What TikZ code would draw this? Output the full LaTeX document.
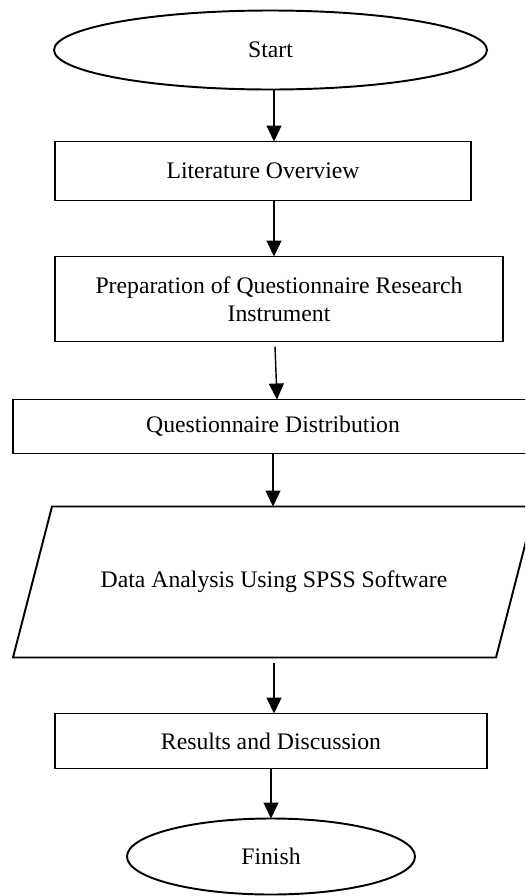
\documentclass[tikz,border=0pt]{standalone}
\usepackage{fontspec}
\setmainfont{Liberation Serif}
\usetikzlibrary{shapes.geometric,arrows.meta,positioning}

\begin{document}
\begin{tikzpicture}[
        node distance=1.1cm,
        every node/.style={font=\fontsize{13.5}{16}\selectfont, outer sep=0pt},
        terminal/.style={ellipse, draw, line width=1.1pt, inner sep=0pt},
        process/.style={rectangle, draw, line width=1.1pt, align=center, inner sep=0pt},
        io/.style={rectangle, align=center, inner sep=0pt},
        arrow/.style={-{Triangle[width=0.3cm,length=0.32cm]}, line width=0.8pt}
    ]
        \useasboundingbox (0,0) rectangle (10.5,-17.92);
        \clip (0,0) rectangle (10.5,-17.92);

        % Start
        \node[terminal, minimum width=8.66cm, minimum height=1.58cm] (start) at (5.41,-1.0) {Start};

        % Steps
        \node[process, minimum width=8.32cm, minimum height=1.18cm, below=1.04cm of start, xshift=-0.15cm] (review) {Literature Overview};
        \node[process, minimum width=8.96cm, minimum height=1.70cm, below=1.12cm of review, xshift=0.32cm] (prep) {Preparation of Questionnaire Research\\Instrument};
        \node[process, minimum width=10.4cm, minimum height=1.08cm, below=1.16cm of prep, xshift=-0.12cm] (distrib) {Questionnaire Distribution};

        % Analysis (parallelogram drawn round the node)
        \node[io, minimum width=9.66cm, minimum height=3.02cm, below=1.06cm of distrib, xshift=0.02cm] (analysis) {Data Analysis Using SPSS Software};
        \draw[line width=1.1pt, line join=miter]
            ([xshift=0.39cm]analysis.north west) -- ([xshift=0.39cm]analysis.north east)
            -- ([xshift=-0.39cm]analysis.south east) -- ([xshift=-0.39cm]analysis.south west) -- cycle;

        \node[process, minimum width=8.64cm, minimum height=1.10cm, below=1.12cm of analysis, xshift=-0.06cm] (results) {Results and Discussion};

        % Finish
        \node[terminal, minimum width=5.76cm, minimum height=1.52cm, below=1.0cm of results] (finish) {Finish};

        % Arrows
        \draw[arrow] ([xshift=0.07cm]start.south) -- ([xshift=0.07cm]start.south |- review.north);
        \draw[arrow] ([xshift=0.22cm]review.south) -- ([xshift=0.22cm]review.south |- prep.north);
        \draw[arrow] ([xshift=-0.08cm,yshift=-0.1cm]prep.south) -- ([xshift=-0.04cm]prep.south |- distrib.north);
        \draw[arrow] (distrib.south) -- (distrib.south |- analysis.north);
        \draw[arrow] ([yshift=-0.1cm]analysis.south) -- (analysis.south |- results.north);
        \draw[arrow] (results.south) -- (results.south |- finish.north);

    \end{tikzpicture}
\end{document}
